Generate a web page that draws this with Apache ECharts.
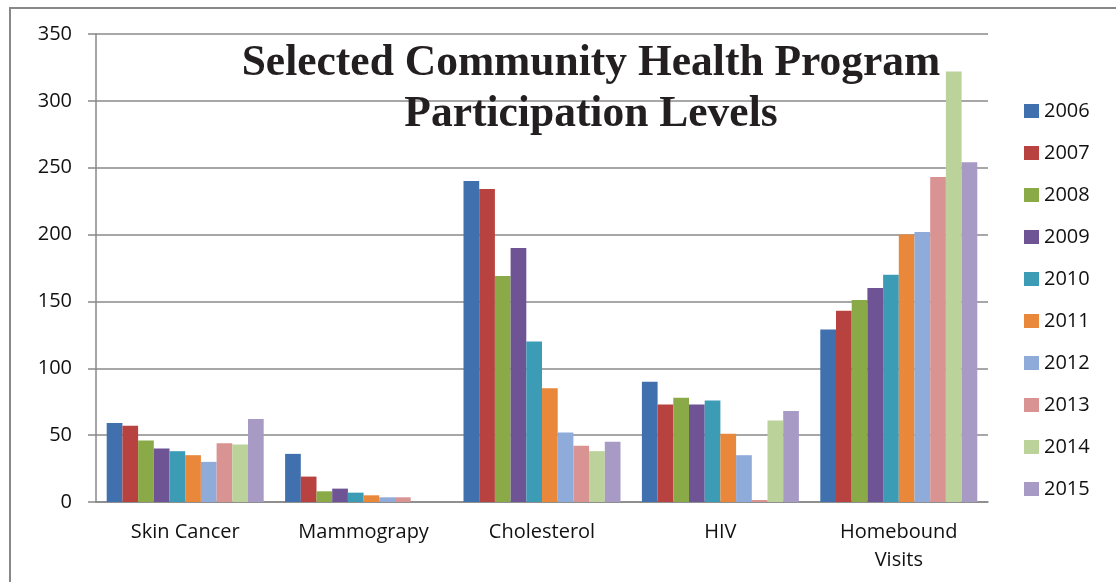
<!DOCTYPE html>
<html>
<head>
<meta charset="utf-8">
<script src="https://cdn.jsdelivr.net/npm/echarts@6/dist/echarts.min.js"></script>
<style>
  html, body { margin: 0; padding: 0; background: #fff; }
  #chart { width: 1116px; height: 582px; }
</style>
</head>
<body>
<div id="chart"></div>
<script>
// data
const categories = ['Skin Cancer', 'Mammograpy', 'Cholesterol', 'HIV', 'Homebound\nVisits']
const years = ['2006', '2007', '2008', '2009', '2010', '2011', '2012', '2013', '2014', '2015']
const values = [
  [59, 36, 240, 90, 129],
  [57, 19, 234, 73, 143],
  [46, 8, 169, 78, 151],
  [40, 10, 190, 73, 160],
  [38, 7, 120, 76, 170],
  [35, 5, 85, 51, 200],
  [30, 3.5, 52, 35, 202],
  [44, 3.5, 42, 1.5, 243],
  [43, 0, 38, 61, 322],
  [62, 0, 45, 68, 254]
]
const yTicks = [0, 50, 100, 150, 200, 250, 300, 350]

const colors = ['#4170AE', '#B8423F', '#8AAA48', '#6E5395', '#3C9CB6', '#E9873A', '#8FABD9', '#D99392', '#BBD29A', '#A79BC6']

const chart = echarts.init(document.getElementById('chart'))

const option = {
  animation: false,
  color: colors,
  title: {
    text: 'Selected Community Health Program\nParticipation Levels',
    left: 591,
    top: 38,
    padding: 0,
    textAlign: 'center',
    textStyle: {
      fontFamily: 'Liberation Serif',
      fontWeight: 'bold',
      fontSize: 43.5,
      lineHeight: 51,
      color: '#231f20'
    }
  },
  legend: {
    orient: 'vertical',
    left: 1019,
    top: 95,
    itemWidth: 15,
    itemHeight: 14,
    itemGap: 20,
    icon: 'rect',
    data: years,
    textStyle: {
      fontFamily: 'Open Sans',
      fontSize: 20,
      lineHeight: 22,
      color: '#111'
    }
  },
  grid: {
    left: 96,
    right: 128,
    top: 34,
    bottom: 80
  },
  xAxis: {
    type: 'category',
    data: categories,
    axisLine: { lineStyle: { color: '#888', width: 1.5 } },
    axisTick: { length: 6, lineStyle: { color: '#888', width: 1.5 } },
    axisLabel: {
      fontFamily: 'Open Sans',
      fontSize: 20,
      lineHeight: 28,
      color: '#111',
      margin: 16
    }
  },
  yAxis: {
    type: 'value',
    min: yTicks[0],
    max: yTicks[yTicks.length - 1],
    interval: 50,
    axisLine: { show: true, lineStyle: { color: '#888', width: 1.5 } },
    axisTick: { show: true, length: 8, lineStyle: { color: '#888', width: 1.5 } },
    splitLine: { lineStyle: { color: '#8a8a8a', width: 1.5 } },
    axisLabel: {
      fontFamily: 'Open Sans',
      fontSize: 20,
      color: '#111',
      margin: 24
    }
  },
  graphic: [
    {
      type: 'rect',
      shape: { x: 10, y: 8, width: 1120, height: 600 },
      style: { fill: 'none', stroke: '#888', lineWidth: 2 },
      silent: true
    }
  ],
  series: years.map((y, i) => ({
    name: y,
    type: 'bar',
    barGap: '0%',
    barCategoryGap: '12%',
    data: values[i]
  }))
}

chart.setOption(option)
</script>
</body>
</html>
